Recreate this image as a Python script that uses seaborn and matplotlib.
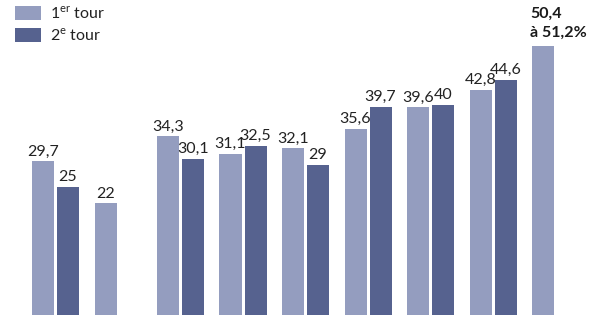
import matplotlib
matplotlib.use("Agg")
import matplotlib.pyplot as plt
import seaborn as sns
import numpy as np
import pandas as pd

# Data: abstention aux législatives (%)
years = ["1981", "1986", "1988", "1993", "1997", "2002", "2007", "2012", "2017"]
tour1 = [29.7, 22.0, 34.3, 31.1, 32.1, 35.6, 39.6, 42.8, 50.8]
tour2 = [25.0, np.nan, 30.1, 32.5, 29.0, 39.7, 40.0, 44.6, np.nan]
labels1 = ["29,7", "22", "34,3", "31,1", "32,1", "35,6", "39,6", "42,8", "50,4\nà 51,2%"]
labels2 = ["25", "", "30,1", "32,5", "29", "39,7", "40", "44,6", ""]
series_names = ["1$^{\\mathregular{er}}$ tour", "2$^{\\mathregular{e}}$ tour"]

LIGHT = "#949dbf"
DARK = "#56628f"

sns.set_theme(style="white")
FONT = ["Lato", "DejaVu Sans"]
plt.rcParams["font.family"] = FONT
plt.rcParams["mathtext.fontset"] = "custom"
plt.rcParams["mathtext.rm"] = FONT[0]

df = pd.DataFrame({
    "year": years * 2,
    "tour": [series_names[0]] * len(years) + [series_names[1]] * len(years),
    "value": tour1 + tour2,
})

fig = plt.figure(figsize=(6, 3.15), dpi=100)
ax = fig.add_axes([0, 0, 1, 1])
sns.barplot(data=df, x="year", y="value", hue="tour", order=years,
            hue_order=series_names, palette=[LIGHT, DARK], width=0.8,
            gap=0.12, dodge=True, ax=ax, linewidth=0, saturation=1)

ax.set_xlim(-0.888, 8.712)
ax.set_ylim(1.5, 59.3)
ax.set_axis_off()

FS = 11.5
offsets = [-0.2, 0.2]
for k, (cont, labs) in enumerate([(ax.containers[0], labels1),
                                  (ax.containers[1], labels2)]):
    for patch in cont.patches:
        h = patch.get_height()
        if np.isnan(h) or h == 0:
            continue
        cx = patch.get_x() + patch.get_width() / 2
        idx = int(round(cx - offsets[k]))
        lab = labs[idx]
        if not lab:
            continue
        if "\n" in lab:
            ax.annotate(lab, (patch.get_x(), h), xytext=(-1.5, 5),
                        textcoords="offset points", ha="left", va="bottom",
                        fontsize=FS, fontweight="bold", color="#1a1a1a",
                        linespacing=1.45)
        else:
            ax.annotate(lab, (cx, h), xytext=(0, 2), textcoords="offset points",
                        ha="center", va="bottom", fontsize=FS, color="#222222")

leg = ax.legend(loc="upper left", bbox_to_anchor=(15 / 600, 1 - 5 / 315),
                frameon=False, fontsize=FS, handlelength=1.62,
                handleheight=1.0, handletextpad=0.55, labelspacing=0.3,
                borderpad=0, borderaxespad=0)
for t in leg.get_texts():
    t.set_color("#222222")

fig.savefig("out.png", dpi=100)
